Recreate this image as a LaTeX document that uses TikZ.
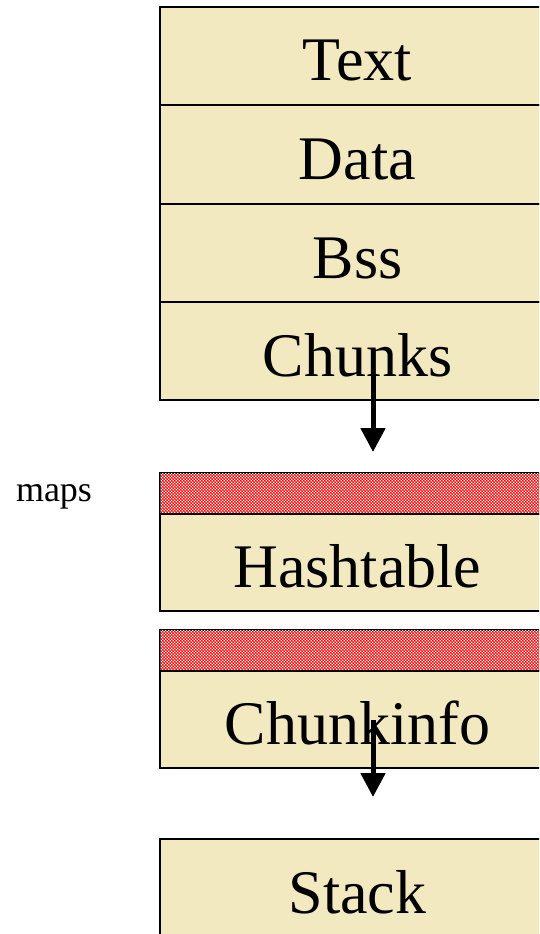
\documentclass[tikz,border=0pt]{standalone}
\usepackage{fontspec}
\setmainfont{Liberation Serif}
\usetikzlibrary{arrows.meta,patterns.meta}
\definecolor{segfill}{RGB}{243,233,193}
\tikzdeclarepattern{name=finecheck, type=uncolored,
  bounding box={(0,0) and (3.4pt,3.4pt)}, tile size={(3.4pt,3.4pt)},
  code={\fill (0.1pt,0.1pt) rectangle (1.6pt,1.6pt); \fill (1.8pt,1.8pt) rectangle (3.3pt,3.3pt);}}
\tikzset{
  seg/.style={draw=black, line width=1.5pt, fill=segfill, minimum width=395pt, inner sep=0pt, text height=50pt, text depth=0pt, font=\fontsize{62}{62}\selectfont},
  redbar/.style={draw=black, line width=1.5pt, fill=red, postaction={pattern={finecheck}, pattern color=white}, minimum width=395pt, minimum height=41pt, inner sep=0pt},
  bigarrow/.style={line width=5pt, -{Triangle[width=24pt,length=24pt]}}
}
\begin{document}
\begin{tikzpicture}[x=1pt,y=-1pt]
\useasboundingbox (0,0) rectangle (539,934);
\begin{scope}
\clip (0,0) rectangle (539,934);
\node[seg, minimum height=98pt] (text) at (357.5,56) {Text};
\node[seg, minimum height=99pt] (data) at (357.5,154.5) {Data};
\node[seg, minimum height=98pt] (bss) at (357.5,253) {Bss};
\node[seg, minimum height=98pt] (chunks) at (357.5,351) {Chunks};
\node[redbar] (bar1) at (357.5,493.5) {};
\node[seg, minimum height=97pt] (hash) at (357.5,562.5) {Hashtable};
\node[redbar] (bar2) at (357.5,650.5) {};
\node[seg, minimum height=97pt] (cinfo) at (357.5,719.5) {Chunkinfo};
\node[seg, minimum height=98pt] (stack) at (357.5,888) {Stack};
\end{scope}
\node[font=\fontsize{36}{36}\selectfont, inner sep=0pt] (maps) at (54,497) {maps};
\coordinate (a1s) at (373,375);
\coordinate (a1e) at (373,452);
\coordinate (a2s) at (373,720);
\coordinate (a2e) at (373,797);
\draw[bigarrow] (a1s) -- (a1e);
\draw[bigarrow] (a2s) -- (a2e);
\end{tikzpicture}
\end{document}
